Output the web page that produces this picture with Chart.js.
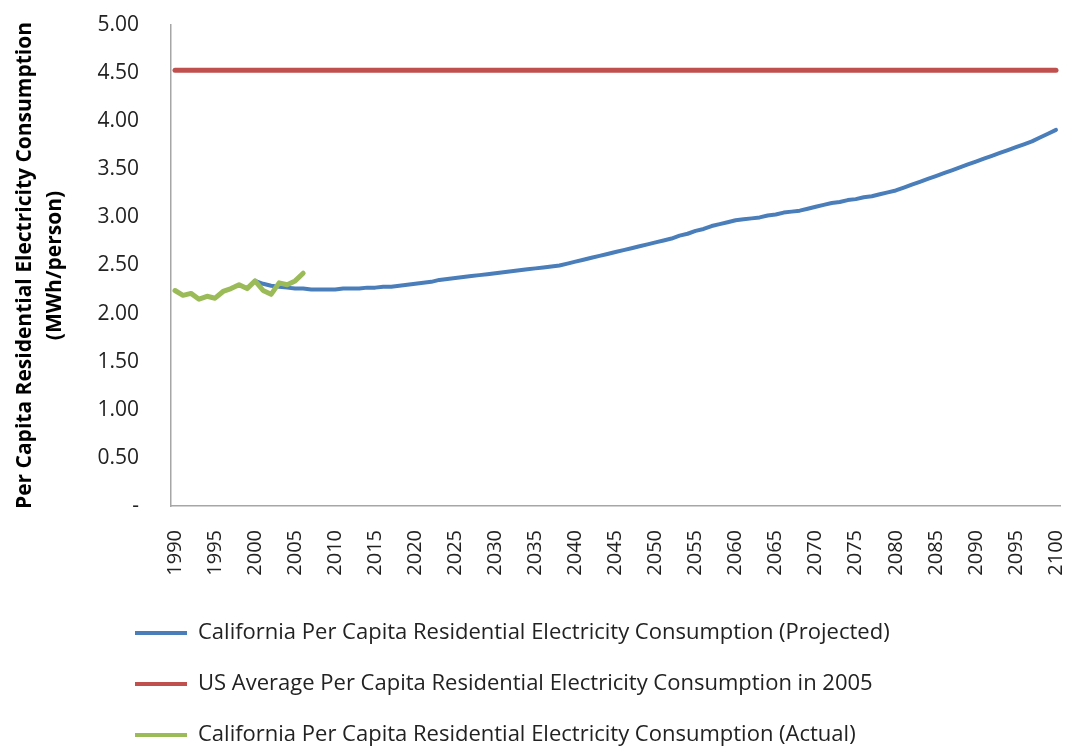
<!DOCTYPE html>
<html>
<head>
<meta charset="utf-8">
<title>California Per Capita Residential Electricity Consumption</title>
<script src="https://cdn.jsdelivr.net/npm/chart.js@4.4.1/dist/chart.umd.min.js"></script>
<style>
  body { margin: 0; background: #fff; }
  #wrap { width: 1069px; height: 747px; }
</style>
</head>
<body>
<div id="wrap"><canvas id="chart" width="1069" height="747"></canvas></div>
<script>
// years on the category axis, 1990..2100
const years = Array.from({ length: 111 }, (_, i) => String(1990 + i));

// California actual, 1990..2006 (MWh/person)
const actual = [2.24, 2.19, 2.21, 2.15, 2.18, 2.16, 2.23, 2.26, 2.30, 2.26,
                2.34, 2.24, 2.20, 2.32, 2.30, 2.34, 2.42];

// California projected, 2000..2100 (MWh/person)
const projected = [
  2.34, 2.31, 2.29, 2.28, 2.27, 2.26, 2.26, 2.25, 2.25, 2.25,
  2.25, 2.26, 2.26, 2.26, 2.27, 2.27, 2.28, 2.28, 2.29, 2.30,
  2.31, 2.32, 2.33, 2.35, 2.36, 2.37, 2.38, 2.39, 2.40, 2.41,
  2.42, 2.43, 2.44, 2.45, 2.46, 2.47, 2.48, 2.49, 2.50, 2.52,
  2.54, 2.56, 2.58, 2.60, 2.62, 2.64, 2.66, 2.68, 2.70, 2.72,
  2.74, 2.76, 2.78, 2.81, 2.83, 2.86, 2.88, 2.91, 2.93, 2.95,
  2.97, 2.98, 2.99, 3.00, 3.02, 3.03, 3.05, 3.06, 3.07, 3.09,
  3.11, 3.13, 3.15, 3.16, 3.18, 3.19, 3.21, 3.22, 3.24, 3.26,
  3.28, 3.31, 3.34, 3.37, 3.40, 3.43, 3.46, 3.49, 3.52, 3.55,
  3.58, 3.61, 3.64, 3.67, 3.70, 3.73, 3.76, 3.79, 3.83, 3.87,
  3.91
];

// US average in 2005, flat line across the whole range
const usAverage2005 = 4.53;

const FONT = "'Open Sans', sans-serif";

// push the legend under the plot, left-aligned like the original
const legendShift = {
  id: 'legendShift',
  afterLayout(chart) {
    const lg = chart.legend;
    lg.left += 106; lg.right += 106;
    lg.top += 17; lg.bottom += 17;
  }
};

new Chart(document.getElementById('chart').getContext('2d'), {
  type: 'line',
  data: {
    labels: years,
    datasets: [{
      label: 'California Per Capita Residential Electricity Consumption (Projected)',
      data: projected.map((v, i) => ({ x: String(2000 + i), y: v })),
      borderColor: '#4a7ebb',
      backgroundColor: '#4a7ebb',
      borderWidth: 4,
      order: 2
    }, {
      label: 'US Average Per Capita Residential Electricity Consumption in 2005',
      data: [{ x: years[0], y: usAverage2005 }, { x: years[years.length - 1], y: usAverage2005 }],
      borderColor: '#c0504d',
      backgroundColor: '#c0504d',
      borderWidth: 5,
      order: 3
    }, {
      label: 'California Per Capita Residential Electricity Consumption (Actual)',
      data: actual.map((v, i) => ({ x: String(1990 + i), y: v })),
      borderColor: '#9bbb59',
      backgroundColor: '#9bbb59',
      borderWidth: 5,
      order: 1
    }]
  },
  options: {
    responsive: false,
    animation: false,
    layout: { padding: { top: 25, right: 9, bottom: 8, left: 0 } },
    elements: {
      point: { radius: 0 },
      line: { tension: 0, borderJoinStyle: 'round', borderCapStyle: 'round' }
    },
    scales: {
      x: {
        type: 'category',
        offset: true,
        grid: { display: false, drawTicks: false },
        border: { display: true, color: '#a6a6a6', width: 1.5 },
        ticks: {
          autoSkip: false,
          maxRotation: 90,
          minRotation: 90,
          padding: 24,
          color: '#222',
          font: { family: FONT, size: 20 },
          callback: function(value) {
            const y = Number(this.getLabelForValue(value));
            return y % 5 === 0 ? String(y) : null;
          }
        },
        afterFit(s) {
          s.height = 70;
          s.paddingLeft = 0;
          s.paddingRight = 0;
        }
      },
      y: {
        min: 0,
        max: 5,
        grid: { display: false, drawTicks: false },
        border: { display: true, color: '#a6a6a6', width: 1.5 },
        ticks: {
          stepSize: 0.5,
          padding: 32,
          color: '#222',
          font: { family: FONT, size: 21 },
          callback: (v) => v === 0 ? '-' : v.toFixed(2)
        },
        title: {
          display: true,
          text: ['Per Capita Residential Electricity Consumption', '(MWh/person)'],
          color: '#000',
          font: { family: FONT, size: 21, weight: 'bold', lineHeight: 1.43 },
          padding: { top: 10, bottom: 25 }
        },
        afterFit(s) {
          s.width = 171;
          s.paddingTop = 0;
          s.paddingBottom = 0;
        }
      }
    },
    plugins: {
      legend: {
        position: 'bottom',
        align: 'start',
        labels: {
          boxWidth: 52,
          boxHeight: 4,
          padding: 29,
          color: '#222',
          font: { family: FONT, size: 22 },
          generateLabels(chart) {
            return Chart.defaults.plugins.legend.labels.generateLabels(chart)
              .map(l => ({ ...l, lineWidth: 0 }))
              .sort((a, b) => a.datasetIndex - b.datasetIndex);
          }
        }
      },
      tooltip: { enabled: false }
    }
  },
  plugins: [legendShift]
});
</script>
</body>
</html>
